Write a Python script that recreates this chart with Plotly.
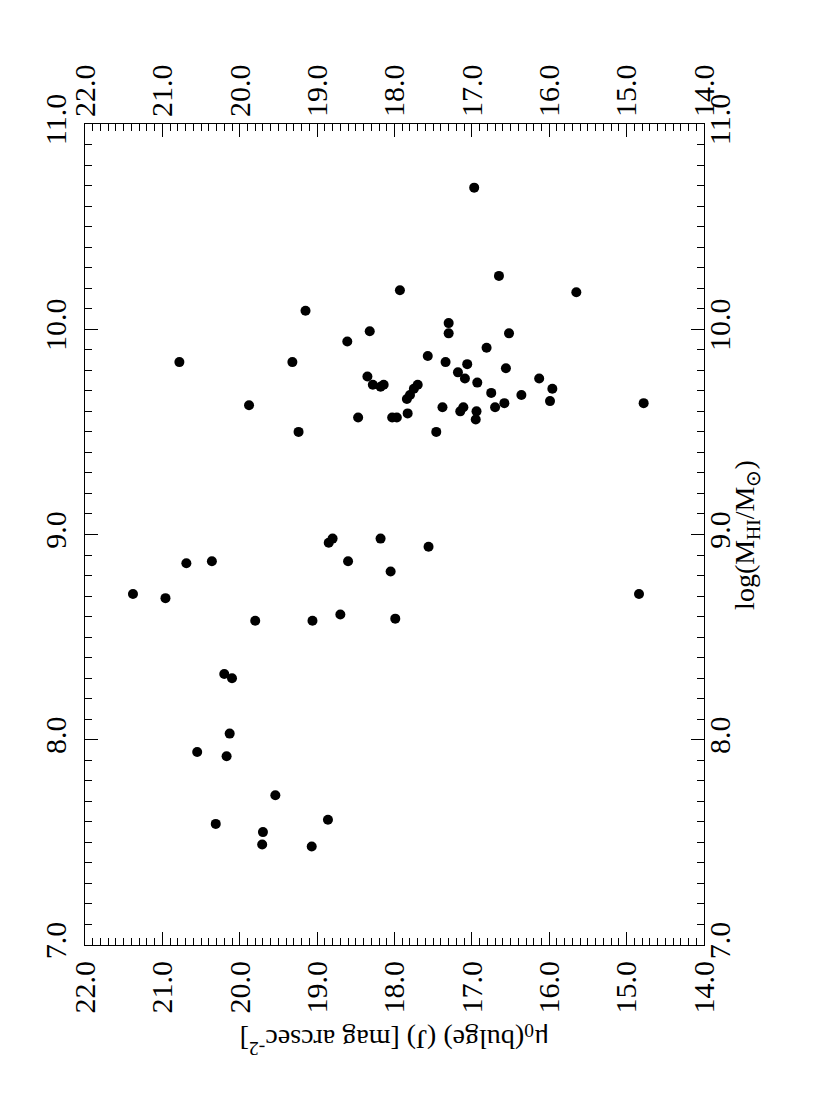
import plotly.graph_objects as go

# mu0(bulge) in J [mag arcsec^-2] (horizontal axis, reversed)
mu0_bulge = [
    17.93, 19.15, 18.32, 18.61, 20.78, 19.32, 18.35, 18.28, 18.18, 18.14,
    19.88, 18.47, 18.03, 17.97, 19.24, 16.97, 16.65, 15.65, 17.30, 17.30,
    16.52, 16.81, 17.57, 17.34, 17.06, 17.18, 17.09, 16.93, 16.56, 16.13,
    15.96, 16.75, 16.36, 15.99, 16.58, 16.70, 17.38, 17.11, 17.15, 16.94,
    16.95, 14.78, 17.46, 17.83, 17.84, 17.80, 17.75, 17.70,
    18.80, 18.85, 18.18, 17.56, 20.69, 20.36, 18.60, 18.05, 21.38, 20.96,
    14.84, 19.80, 19.06, 18.70, 17.99,
    20.20, 20.10, 20.13, 20.55, 20.17, 19.54, 20.31, 18.86, 19.70, 19.71,
    19.07,
]
# log(M_HI / M_sun) (vertical axis)
log_mhi = [
    10.19, 10.09, 9.99, 9.94, 9.84, 9.84, 9.77, 9.73, 9.72, 9.73,
    9.63, 9.57, 9.57, 9.57, 9.50, 10.69, 10.26, 10.18, 10.03, 9.98,
    9.98, 9.91, 9.87, 9.84, 9.83, 9.79, 9.76, 9.74, 9.81, 9.76,
    9.71, 9.69, 9.68, 9.65, 9.64, 9.62, 9.62, 9.62, 9.60, 9.60,
    9.56, 9.64, 9.50, 9.59, 9.66, 9.68, 9.71, 9.73,
    8.98, 8.96, 8.98, 8.94, 8.86, 8.87, 8.87, 8.82, 8.71, 8.69,
    8.71, 8.58, 8.58, 8.61, 8.59,
    8.32, 8.30, 8.03, 7.94, 7.92, 7.73, 7.59, 7.61, 7.55, 7.49,
    7.48,
]

mu_ticks = [22, 21, 20, 19, 18, 17, 16, 15, 14]
mhi_ticks = [7, 8, 9, 10, 11]

FONT = "Liberation Serif, Times New Roman, serif"
INK = "black"

fig = go.Figure()
fig.add_trace(go.Scatter(
    x=mu0_bulge, y=log_mhi, mode="markers",
    marker=dict(color=INK, size=10, line=dict(width=0)),
    showlegend=False, hoverinfo="skip",
))
# invisible copy so the mirrored top/right axes are drawn
fig.add_trace(go.Scatter(
    x=mu0_bulge, y=log_mhi, mode="markers", xaxis="x2", yaxis="y2",
    marker=dict(color="rgba(0,0,0,0)", size=1),
    showlegend=False, hoverinfo="skip",
))

tickfont = dict(family=FONT, size=30, color=INK)
minor = dict(dtick=0.1, ticklen=7, ticks="inside", tickcolor=INK, tickwidth=1)

xcommon = dict(
    range=[22, 14], tickvals=mu_ticks, tickformat=".1f", ticks="inside",
    ticklen=13, tickwidth=1, tickcolor=INK, showline=True, linecolor=INK,
    linewidth=1, showgrid=False, zeroline=False, tickangle=-90,
    tickfont=tickfont, minor=minor, automargin=False,
)
ycommon = dict(
    range=[7, 11], tickvals=mhi_ticks, tickformat=".1f", ticks="inside",
    ticklen=13, tickwidth=1, tickcolor=INK, showline=True, linecolor=INK,
    linewidth=1, showgrid=False, zeroline=False, tickangle=-90,
    tickfont=tickfont, minor=minor, automargin=False,
)

fig.update_layout(
    width=830, height=1111,
    margin=dict(l=77, r=134, t=116, b=174),
    paper_bgcolor="white", plot_bgcolor="white",
    font=dict(family=FONT, color=INK),
    xaxis=dict(**xcommon, side="bottom", ticklabelstandoff=3),
    yaxis=dict(**ycommon, side="left", ticklabelstandoff=6),
    xaxis2=dict(**xcommon, side="top", overlaying="x", matches="x",
                ticklabelstandoff=0),
    yaxis2=dict(**ycommon, side="right", overlaying="y", matches="y",
                ticklabelstandoff=-11),
    annotations=[
        dict(text="μ<sub>0</sub>(bulge) (J) [mag arcsec<sup>-2</sup>]",
             xref="paper", yref="paper", x=0.5, y=-0.141,
             textangle=180, showarrow=False,
             font=dict(family=FONT, size=28, color=INK)),
        dict(text="log(M<sub>HI</sub>/M<sub>⊙</sub>)",
             xref="paper", yref="paper", x=1.1, y=0.5,
             textangle=-90, showarrow=False,
             font=dict(family=FONT, size=28, color=INK)),
    ],
)

fig.write_html("out.html")
